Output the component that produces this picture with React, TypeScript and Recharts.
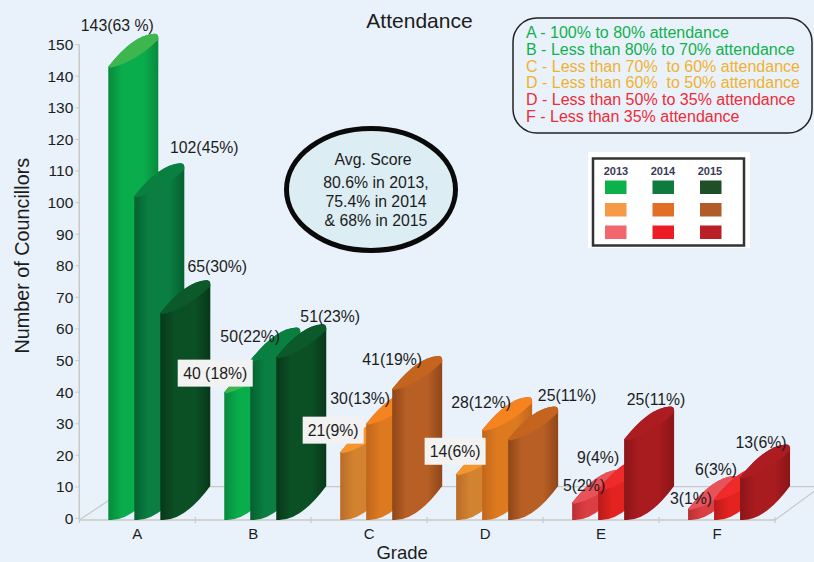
import { Bar, ComposedChart, LabelList, Line, XAxis, YAxis } from "recharts";

const GRADES = ["A", "B", "C", "D", "E", "F"];
const COUNT_2013 = [143, 40, 21, 14, 5, 3];
const COUNT_2014 = [102, 50, 30, 28, 9, 6];
const COUNT_2015 = [65, 51, 41, 25, 25, 13];
const LABELS_2013 = ["143(63 %)", "40 (18%)", "21(9%)", "14(6%)", "5(2%)", "3(1%)"];
const LABELS_2014 = ["102(45%)", "50(22%)", "30(13%)", "28(12%)", "9(4%)", "6(3%)"];
const LABELS_2015 = ["65(30%)", "51(23%)", "41(19%)", "25(11%)", "25(11%)", "13(6%)"];
const Y_TICKS = [0, 10, 20, 30, 40, 50, 60, 70, 80, 90, 100, 110, 120, 130, 140, 150];

const YEARS = ["2013", "2014", "2015"];
const LEGEND_LINES = [
  "A - 100% to 80% attendance",
  "B - Less than 80% to 70% attendance",
  "C - Less than 70%  to 60% attendance",
  "D - Less than 60%  to 50% attendance",
  "D - Less than 50% to 35% attendance",
  "F - Less than 35% attendance",
];
const SCORE_LINES = ["Avg. Score", "80.6% in 2013,", "75.4% in 2014", "& 68% in 2015"];

// label nudges relative to where the value sits, px
const OFFSETS_2013 = [[-20, -41], [-38, -19], [-36, -22], [-30, -23], [-17, -17], [-26, -11]];
const OFFSETS_2014 = [[67, -49], [-3, -24], [-9, -25], [-4, -28], [-3, -33], [-1, -30]];
const OFFSETS_2015 = [[80, -47], [77, -41], [23, -29], [82, -44], [55, -40], [44, -35]];

const BG = "#e9f2fb";
const AXIS = "#c9c9c4";
const TEXT = "#1c1c1c";
const FONT = "'Liberation Sans', Arial, sans-serif";
const LEGEND_GREEN = "#12b04f";
const LEGEND_AMBER = "#f0b12e";
const LEGEND_RED = "#ee2b36";
const LEGEND_COLORS = [LEGEND_GREEN, LEGEND_GREEN, LEGEND_AMBER, LEGEND_AMBER, LEGEND_RED, LEGEND_RED];

// [edge, bright, cap] for each family and year
const GREENS = [
  ["#078a3d", "#0aad4c", "#3eb64e"],
  ["#066030", "#0a7f41", "#0a8040"],
  ["#07381a", "#0b4f25", "#0c5a2a"],
];
const ORANGES = [
  ["#b96c2a", "#d3832f", "#f4952f"],
  ["#c0661c", "#dd7a20", "#f5831f"],
  ["#8f4619", "#b85f25", "#c4641f"],
];
const REDS = [
  ["#b92f33", "#dc3f43", "#e8525a"],
  ["#b91a1c", "#e2231f", "#ee2a2a"],
  ["#8a1518", "#a81b1e", "#ac1c20"],
];
const FAMILIES = [GREENS, GREENS, ORANGES, ORANGES, REDS, REDS];
const FAMILY_NAMES = ["g", "g", "o", "o", "r", "r"];
const SWATCHES = [
  ["#0db14b", "#0f7a3e", "#1f4f27"],
  ["#f69a48", "#e36f26", "#b25a28"],
  ["#f2666d", "#ed1c24", "#b91f25"],
];

const W = 814;
const H = 562;
const PLOT_LEFT = 79.3;
const PLOT_RIGHT = 775;
const PLOT_TOP = 44.6;
const PLOT_BOTTOM = 518.5;
const BAND = (PLOT_RIGHT - PLOT_LEFT) / GRADES.length;
const BAR_W = 26;
const BAR_SHIFT = 10; // original bars sit right of the band centre
const DEPTH = 50;
const RISE = 33;

const chartData = GRADES.map((grade, i) => ({
  grade,
  y2013: COUNT_2013[i],
  y2014: COUNT_2014[i],
  y2015: COUNT_2015[i],
}));

function CylinderBar(props: any) {
  const { x, y, height, index, year } = props;
  const left = x + BAR_SHIFT;
  const right = left + DEPTH;
  const bottom = y + height + 1.5;
  const cap = FAMILIES[index][year][2];
  const body = [
    `M${left},${bottom}`,
    `L${left},${y}`,
    `Q${left + 25},${y - RISE + 1} ${right - 4},${y - RISE}`,
    `Q${right},${y - RISE} ${right},${y - RISE + 4}`,
    `L${right},${bottom - RISE - 1}`,
    `Q${left + 25},${bottom} ${left + 3},${bottom}`,
    "Z",
  ].join(" ");
  const top = [
    `M${left},${y}`,
    `Q${left + 25},${y - RISE + 1} ${right - 4},${y - RISE}`,
    `Q${right},${y - RISE} ${right},${y - RISE + 4}`,
    `L${right},${y - RISE + 6}`,
    `Q${left + 26},${y - 4} ${left + 2},${y + 1}`,
    "Z",
  ].join(" ");
  return (
    <g>
      <path d={body} fill={`url(#bar-${FAMILY_NAMES[index]}-${year})`} />
      <path d={top} fill={cap} />
    </g>
  );
}

function valueLabel(texts: string[], offsets: number[][], boxed: number[] = []) {
  return (props: any) => {
    const { x, y, index } = props;
    const [dx, dy] = offsets[index];
    const text = texts[index];
    const boxW = 7 * text.length + 19;
    return (
      <g>
        {boxed.includes(index) && (
          <rect x={x + dx - boxW / 2} y={y + dy - 13.5} width={boxW} height={27} fill="#f2f2f2" />
        )}
        <text
          x={x + dx}
          y={y + dy}
          textAnchor="middle"
          dominantBaseline="central"
          fontFamily={FONT}
          fontSize={15.8}
          fill={TEXT}
        >
          {text}
        </text>
      </g>
    );
  };
}

function Gradients() {
  const sets: [string, string[][]][] = [["g", GREENS], ["o", ORANGES], ["r", REDS]];
  return (
    <svg width={0} height={0} style={{ position: "absolute" }}>
      <defs>
        {sets.map(([name, colors]) =>
          colors.map((c, year) => (
            <linearGradient key={name + year} id={`bar-${name}-${year}`} x1="0" y1="0" x2="1" y2="0">
              <stop offset="0" stopColor={c[0]} />
              <stop offset="0.28" stopColor={c[1]} />
              <stop offset="0.7" stopColor={c[1]} />
              <stop offset="1" stopColor={c[0]} />
            </linearGradient>
          ))
        )}
      </defs>
    </svg>
  );
}

export default function App() {
  return (
    <div style={{ position: "absolute", left: 0, top: 0, width: W, height: H, background: BG, overflow: "hidden" }}>
      <Gradients />

      {/* floor of the 3d box, behind the bars */}
      <svg width={W} height={H} style={{ position: "absolute", left: 0, top: 0 }}>
        <g stroke={AXIS} strokeWidth={1.2} fill="none">
          <path d={`M${PLOT_LEFT},520 L${PLOT_LEFT + DEPTH},486.7 L${W},486.7`} />
          <path d={`M${PLOT_RIGHT},520 L${W},491.5`} />
          <path d={`M${PLOT_LEFT},520 L${PLOT_RIGHT},520`} strokeWidth={1.5} />
          {GRADES.concat("").map((_, i) => (
            <line key={i} x1={PLOT_LEFT + i * BAND} x2={PLOT_LEFT + i * BAND} y1={517} y2={523} />
          ))}
        </g>
      </svg>

      <ComposedChart
        width={W}
        height={H}
        data={chartData}
        margin={{ top: PLOT_TOP, right: W - PLOT_RIGHT, bottom: 0, left: 0 }}
        barSize={BAR_W}
        barGap={0}
        style={{ position: "absolute", left: 0, top: 0 }}
      >
        <XAxis
          dataKey="grade"
          height={H - PLOT_BOTTOM}
          axisLine={false}
          tickLine={false}
          tickMargin={4}
          tick={{ fontSize: 15, fill: TEXT, fontFamily: FONT }}
          label={{
            value: "Grade",
            position: "insideBottom",
            dx: -25,
            offset: 3,
            style: { fontSize: 18.5, fill: TEXT, fontFamily: FONT },
          }}
        />
        <YAxis
          width={PLOT_LEFT}
          domain={[0, 150]}
          ticks={Y_TICKS}
          interval={0}
          tickSize={4}
          tickMargin={2}
          axisLine={{ stroke: AXIS, strokeWidth: 1.5 }}
          tickLine={{ stroke: AXIS }}
          tick={{ fontSize: 15.5, fill: TEXT, fontFamily: FONT }}
          label={{
            value: "Number of Councillors",
            angle: -90,
            position: "insideLeft",
            dy: 72,
            dx: 17,
            style: { fontSize: 19.8, fill: TEXT, fontFamily: FONT },
          }}
        />
        <Bar dataKey="y2013" isAnimationActive={false} shape={(p: any) => <CylinderBar {...p} year={0} />} />
        <Bar dataKey="y2014" isAnimationActive={false} shape={(p: any) => <CylinderBar {...p} year={1} />} />
        <Bar dataKey="y2015" isAnimationActive={false} shape={(p: any) => <CylinderBar {...p} year={2} />} />
        {/* invisible lines only carry the labels, so they land above all the bars */}
        <Line dataKey="y2013" stroke="none" dot={false} activeDot={false} isAnimationActive={false}>
          <LabelList dataKey="y2013" content={valueLabel(LABELS_2013, OFFSETS_2013, [1, 2, 3])} />
        </Line>
        <Line dataKey="y2014" stroke="none" dot={false} activeDot={false} isAnimationActive={false}>
          <LabelList dataKey="y2014" content={valueLabel(LABELS_2014, OFFSETS_2014)} />
        </Line>
        <Line dataKey="y2015" stroke="none" dot={false} activeDot={false} isAnimationActive={false}>
          <LabelList dataKey="y2015" content={valueLabel(LABELS_2015, OFFSETS_2015)} />
        </Line>
      </ComposedChart>

      {/* title, callouts and year key */}
      <svg width={W} height={H} style={{ position: "absolute", left: 0, top: 0, fontFamily: FONT }}>
        <text x={419.5} y={20} textAnchor="middle" dominantBaseline="central" fontSize={21} fill={TEXT}>
          Attendance
        </text>

        <ellipse cx={371} cy={189.5} rx={84.5} ry={61} fill="#dcedf3" stroke="#0a0a0a" strokeWidth={5} />
        {SCORE_LINES.map((line, i) => (
          <text
            key={line}
            x={i === 0 ? 373 : 376}
            y={[159, 182, 201, 220][i]}
            textAnchor="middle"
            dominantBaseline="central"
            fontSize={15.8}
            fill={TEXT}
          >
            {line}
          </text>
        ))}

        <rect x={513} y={18} width={299} height={115} rx={24} fill="none" stroke="#222" strokeWidth={1.5} />
        {LEGEND_LINES.map((line, i) => (
          <text
            key={line}
            x={526}
            y={[32.5, 49.5, 66.5, 82.5, 99.5, 116.5][i]}
            dominantBaseline="central"
            fontSize={16}
            fill={LEGEND_COLORS[i]}
            style={{ whiteSpace: "pre" }}
          >
            {line}
          </text>
        ))}

        <rect x={588} y={152} width={162} height={96} fill="#fff" />
        <rect x={593} y={158.5} width={151} height={87} fill="none" stroke="#333" strokeWidth={2.5} />
        {YEARS.map((year, col) => (
          <text
            key={year}
            x={616 + col * 47}
            y={171}
            textAnchor="middle"
            dominantBaseline="central"
            fontSize={11}
            fontWeight="bold"
            fill="#3a3a5a"
          >
            {year}
          </text>
        ))}
        {SWATCHES.map((row, r) =>
          row.map((color, col) => (
            <rect key={color} x={605 + col * 47.5} y={180.5 + r * 22.5} width={21.5} height={13.5} fill={color} />
          ))
        )}
      </svg>
    </div>
  );
}
